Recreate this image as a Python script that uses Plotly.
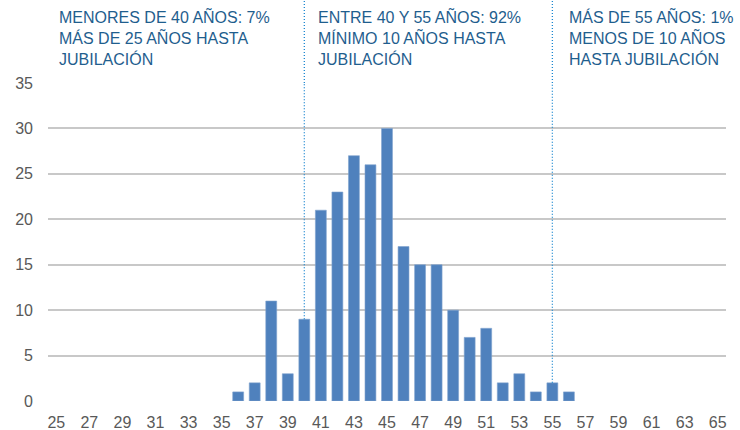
import plotly.graph_objects as go

ages = list(range(25, 66))
counts = [0]*11 + [1, 2, 11, 3, 9, 21, 23, 27, 26, 30, 17, 15, 15, 10, 7, 8, 2, 3, 1, 2, 1] + [0]*9
tick_labels = [str(a) for a in range(25, 66, 2)]
divider_ages = [40, 55]
note_texts = [
    "MENORES DE 40 AÑOS: 7%<br>MÁS DE 25 AÑOS HASTA<br>JUBILACIÓN",
    "ENTRE 40 Y 55 AÑOS: 92%<br>MÍNIMO 10 AÑOS HASTA<br>JUBILACIÓN",
    "MÁS DE 55 AÑOS: 1%<br>MENOS DE 10 AÑOS<br>HASTA JUBILACIÓN",
]
note_x = [25.04, 40.70, 55.88]

fig = go.Figure()
fig.add_trace(go.Bar(
    x=ages, y=counts,
    marker=dict(color="#4F81BD", line=dict(color="#7fa3cf", width=[0.6 if c > 0 else 0 for c in counts])),
    width=0.66,
))

for a in divider_ages:
    v = counts[ages.index(a)]
    dot = dict(color="#1a86d0", width=1.3, dash="1px,2px")
    fig.add_shape(type="line", xref="x", yref="y", x0=a, x1=a, y0=v, y1=35, line=dot, layer="above")
    fig.add_shape(type="line", xref="x", yref="paper", x0=a, x1=a, y0=1, y1=1.27, line=dot, layer="above")

for x, t in zip(note_x, note_texts):
    fig.add_annotation(x=x, y=1.245, xref="x", yref="paper",
                       text=t, showarrow=False, xanchor="left", yanchor="top", align="left",
                       font=dict(family="Liberation Sans, Arial, sans-serif", size=16, color="#1f5e8e"))

fig.update_layout(
    width=740, height=430,
    margin=dict(l=48, r=14, t=83, b=29, autoexpand=False),
    plot_bgcolor="white", paper_bgcolor="white",
    showlegend=False,
    font=dict(family="Liberation Sans, Arial, sans-serif", size=16, color="#595959"),
    xaxis=dict(range=[24.5, 65.5], tickvals=[int(t) for t in tick_labels], ticktext=tick_labels,
               showgrid=False, zeroline=False, showline=False, ticks="", ticklen=0,
               ticklabelstandoff=10, automargin=False),
    yaxis=dict(range=[0, 35], dtick=5, showgrid=True, gridcolor="#c8c8c8", gridwidth=1.6,
               zeroline=False, showline=False, ticks="", ticklabelstandoff=14, automargin=False),
)
fig.write_html("out.html", config={"displayModeBar": False},
               post_script="document.body.style.margin='0';document.body.style.overflow='hidden';")
